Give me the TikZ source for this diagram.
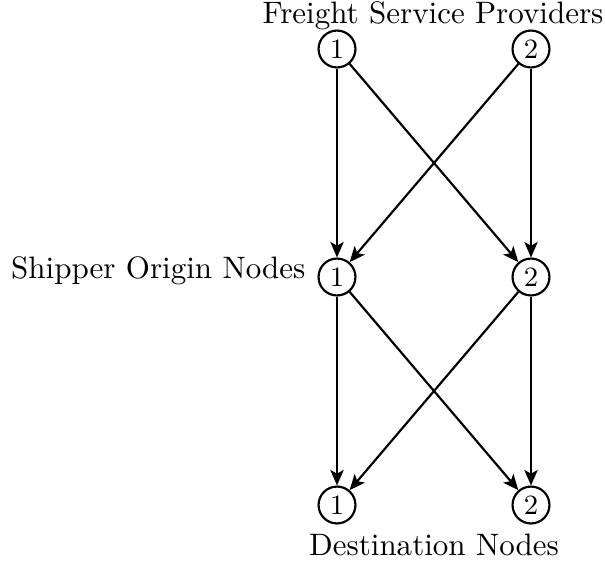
\documentclass[tikz,border=0pt]{standalone}
\usetikzlibrary{arrows.meta}
\begin{document}
\begin{tikzpicture}[x=0.3225pt,y=-0.3225pt,
  station/.style={circle,draw,line width=0.7pt,minimum size=11.9pt,inner sep=0.5pt,font=\small},
  flow/.style={line width=0.7pt,-{Stealth[length=5pt,width=4.3pt,inset=1.2pt]}},
  caption/.style={inner sep=0pt}]
\useasboundingbox (0,0) rectangle (605,565);
% providers, origins, destinations
\node[station] (p1) at (337,49) {1};
\node[station] (p2) at (531,49) {2};
\node[station] (o1) at (337,277) {1};
\node[station] (o2) at (531,277) {2};
\node[station] (d1) at (337,505) {1};
\node[station] (d2) at (531,505) {2};
% row captions
\node[caption,anchor=base] (tp) at (433,23) {Freight Service Providers};
\node[caption,anchor=base east] (to) at (306,278) {Shipper Origin Nodes};
\node[caption,anchor=base] (td) at (434,555) {Destination Nodes};
% connections between rows
\draw[flow] (p1) -- (o1);
\draw[flow] (p1) -- (o2);
\draw[flow] (p2) -- (o1);
\draw[flow] (p2) -- (o2);
\draw[flow] (o1) -- (d1);
\draw[flow] (o1) -- (d2);
\draw[flow] (o2) -- (d1);
\draw[flow] (o2) -- (d2);
\end{tikzpicture}
\end{document}
